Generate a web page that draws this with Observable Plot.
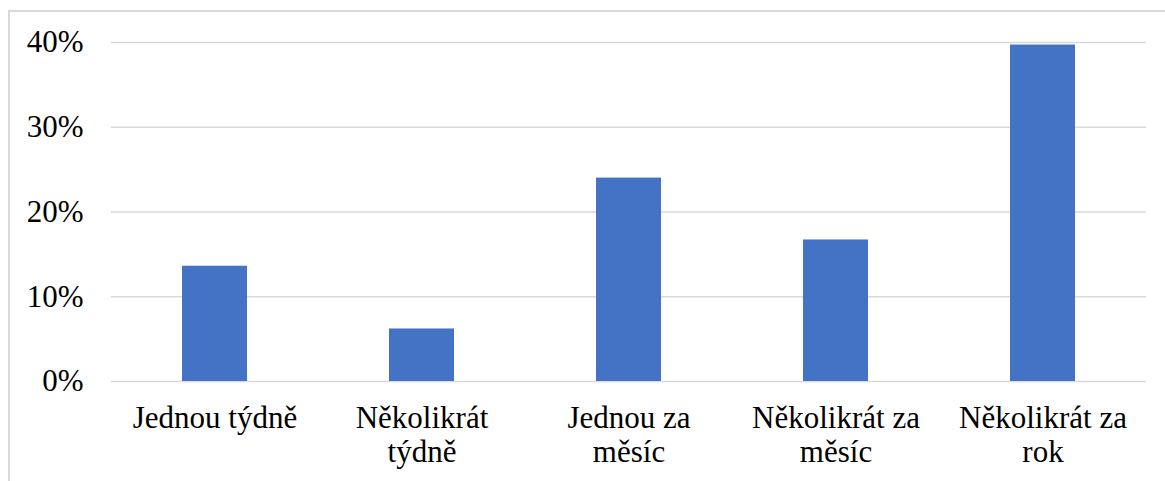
<!DOCTYPE html>
<html>
<head>
<meta charset="utf-8">
<script src="https://cdn.jsdelivr.net/npm/d3@7"></script>
<script src="https://cdn.jsdelivr.net/npm/@observablehq/plot@0.6"></script>
<style>
  html, body { margin: 0; padding: 0; background: #fff; overflow: hidden; }
  #wrap { position: relative; width: 1165px; height: 481px; }
  #frame { position: absolute; left: 8px; top: 10px; width: 1300px; height: 600px; border: 2px solid #d9d9d9; pointer-events: none; box-sizing: border-box; }
</style>
</head>
<body>
<div id="wrap"><div id="frame"></div></div>
<script>
const categories = ["Jednou týdně", "Několikrát týdně", "Jednou za měsíc", "Několikrát za měsíc", "Několikrát za rok"];
const tickLabels = ["Jednou týdně", "Několikrát\ntýdně", "Jednou za\nměsíc", "Několikrát za\nměsíc", "Několikrát za\nrok"];
const values = [0.136, 0.062, 0.24, 0.167, 0.397];
const yTicks = [0, 0.1, 0.2, 0.3, 0.4];

const data = categories.map((c, i) => ({category: c, value: values[i]}));
const serif = "Liberation Serif";

const chart = Plot.plot({
  width: 1165,
  height: 481,
  marginLeft: 111,
  marginRight: 19,
  marginTop: 42,
  marginBottom: 100,
  style: {fontSize: "31px", color: "#000", background: "transparent", overflow: "visible"},
  x: {domain: categories, paddingInner: 0.686, paddingOuter: 0.343},
  y: {domain: [0, 0.4]},
  marks: [
    Plot.gridY(yTicks, {stroke: "#d9d9d9", strokeOpacity: 1, strokeWidth: 1.5}),
    Plot.barY(data, {x: "category", y: "value", fill: "#4472c4"}),
    Plot.axisY({ticks: yTicks, tickSize: 0, tickPadding: 28, tickFormat: d => Math.round(d * 100) + "%", label: null, fill: "#000", fontSize: 31}),
    Plot.axisX({tickSize: 0, tickPadding: 22, tickFormat: d => tickLabels[categories.indexOf(d)], lineHeight: 1.1, label: null, fill: "#000", fontSize: 31})
  ]
});
chart.querySelectorAll("style").forEach(s => s.remove());
chart.setAttribute("font-family", serif);
chart.querySelectorAll("g, text").forEach(t => t.setAttribute("font-family", serif));
chart.style.position = "absolute";
chart.style.left = "0px";
chart.style.top = "0px";
chart.style.fontFamily = serif;
document.getElementById("wrap").prepend(chart);
</script>
</body>
</html>
